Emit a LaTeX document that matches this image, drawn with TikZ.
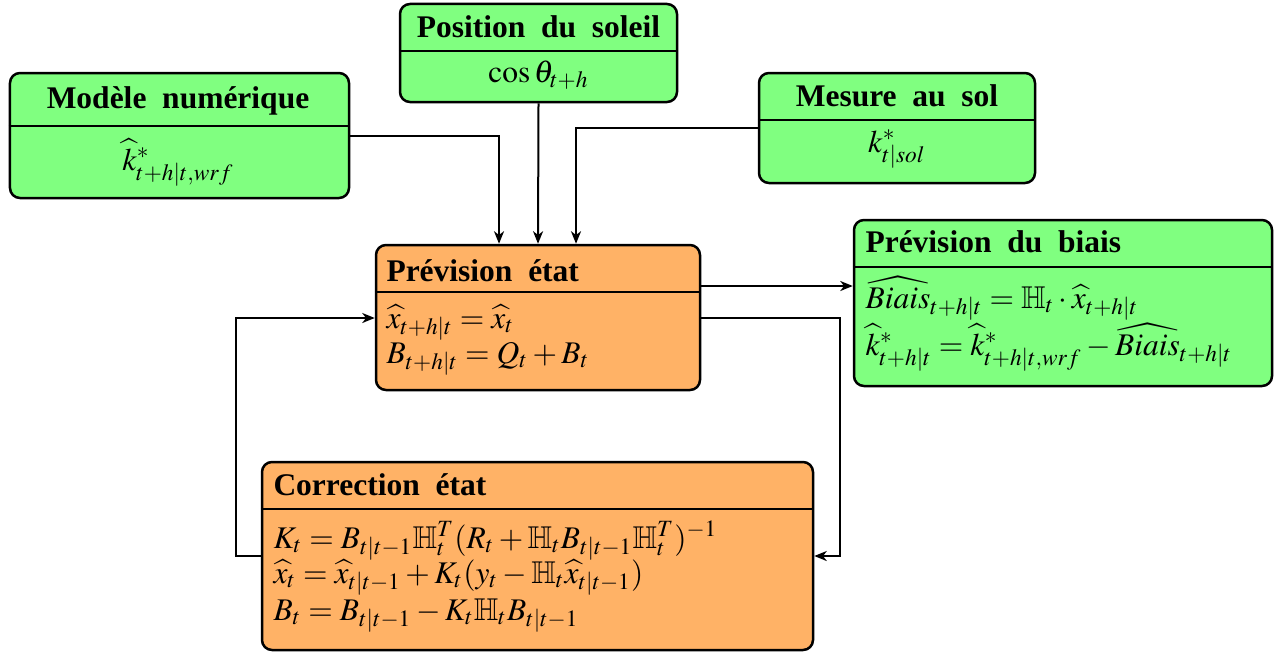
\documentclass[tikz,border=0pt]{standalone}
\usepackage{mathptmx}
\usepackage{amssymb}
\usepackage{fontspec}
\setmainfont{Liberation Serif}
\usetikzlibrary{arrows.meta}
\definecolor{boxgreen}{RGB}{128,255,128}
\definecolor{boxorange}{RGB}{255,178,102}
\begin{document}
\begin{tikzpicture}[x=0.4pt,y=-0.4pt,
  box/.style={draw=black, line width=1pt, rounded corners=4pt, inner sep=0pt},
  gbox/.style={box, fill=boxgreen},
  obox/.style={box, fill=boxorange},
  sepline/.style={line width=1pt},
  ttl/.style={inner sep=0pt, font=\fontsize{12.6}{15}\selectfont\bfseries},
  txt/.style={inner sep=0pt, font=\fontsize{12.6}{15}\selectfont},
  arr/.style={line width=0.8pt, -{Stealth[length=5pt,width=4pt,inset=1.5pt]}}]
\useasboundingbox (0,0) rectangle (1283,653);
% boxes
\node[gbox, minimum width=135.6pt, minimum height=50pt] (mod) at (179.5,135.5) {};
\node[gbox, minimum width=110.8pt, minimum height=39.2pt] (sol) at (538.5,53) {};
\node[gbox, minimum width=110.4pt, minimum height=44pt] (mes) at (897,128) {};
\node[obox, minimum width=129.6pt, minimum height=58pt] (pe) at (538,317.5) {};
\node[gbox, minimum width=167.2pt, minimum height=66.4pt] (pb) at (1063,303) {};
\node[obox, minimum width=220.4pt, minimum height=75.2pt] (ce) at (537.5,556) {};
% separator coordinates
\coordinate (smod) at (0,126);
\coordinate (ssol) at (0,51);
\coordinate (smes) at (0,120);
\coordinate (spe) at (0,292);
\coordinate (spb) at (0,267);
\coordinate (sce) at (0,509);
\draw[sepline] (mod.west |- smod) -- (mod.east |- smod);
\draw[sepline] (sol.west |- ssol) -- (sol.east |- ssol);
\draw[sepline] (mes.west |- smes) -- (mes.east |- smes);
\draw[sepline] (pe.west |- spe) -- (pe.east |- spe);
\draw[sepline] (pb.west |- spb) -- (pb.east |- spb);
\draw[sepline] (ce.west |- sce) -- (ce.east |- sce);
% texts
\node[ttl, anchor=base] (tmod) at (178,108) {Modèle\ \ numérique};
\node[txt, anchor=base] (bmod) at (178,170) {$\widehat{k}^{*}_{t+h|t,wrf}$};
\node[ttl, anchor=base] (tsol) at (538.5,37) {Position\ \ du\ \ soleil};
\node[txt, anchor=base] (bsol) at (538.5,82) {$\cos\theta_{t+h}$};
\node[ttl, anchor=base] (tmes) at (897,106) {Mesure\ \ au\ \ sol};
\node[txt, anchor=base] (bmes) at (897,152) {$k^{*}_{t|sol}$};
\node[ttl, anchor=base west] (tpe) at (386,281) {Prévision\ \ état};
\node[txt, anchor=base west] (pe1) at (386,328) {$\widehat{x}_{t+h|t} = \widehat{x}_t$};
\node[txt, anchor=base west] (pe2) at (386,363) {$B_{t+h|t} = Q_t + B_t$};
\node[ttl, anchor=base west] (tpb) at (865,252) {Prévision\ \ du\ \ biais};
\node[txt, anchor=base west] (pb1) at (865,308) {$\widehat{Biais}_{t+h|t} = \mathbb{H}_t \cdot \widehat{x}_{t+h|t}$};
\node[txt, anchor=base west] (pb2) at (865,355) {$\widehat{k}^{*}_{t+h|t} = \widehat{k}^{*}_{t+h|t,wrf} - \widehat{Biais}_{t+h|t}$};
\node[ttl, anchor=base west] (tce) at (273,495) {Correction\ \ état};
\node[txt, anchor=base west] (ce1) at (273,548) {$K_t = B_{t|t-1}\mathbb{H}_t^T(R_t+\mathbb{H}_t B_{t|t-1}\mathbb{H}_t^T)^{-1}$};
\node[txt, anchor=base west] (ce2) at (273,583) {$\widehat{x}_t = \widehat{x}_{t|t-1} + K_t(y_t - \mathbb{H}_t\widehat{x}_{t|t-1})$};
\node[txt, anchor=base west] (ce3) at (273,620) {$B_t = B_{t|t-1} - K_t\mathbb{H}_t B_{t|t-1}$};
% connectors
\coordinate (c1) at (499,0);
\coordinate (c3) at (576,0);
\coordinate (r1) at (0,286);
\coordinate (r2) at (0,318);
\coordinate (k1) at (840,0);
\coordinate (k2) at (236,0);
\draw[arr] (mod.east) -| (pe.north -| c1);
\draw[arr] (sol.south) -- (pe.north);
\draw[arr] (mes.west) -| (pe.north -| c3);
\draw[arr] (pe.east |- r1) -- (pb.west |- r1);
\draw[arr] (pe.east |- r2) -| (ce.east -| k1) -- (ce.east);
\draw[arr] (ce.west) -| (k2 |- r2) -- (pe.west |- r2);
\end{tikzpicture}
\end{document}
